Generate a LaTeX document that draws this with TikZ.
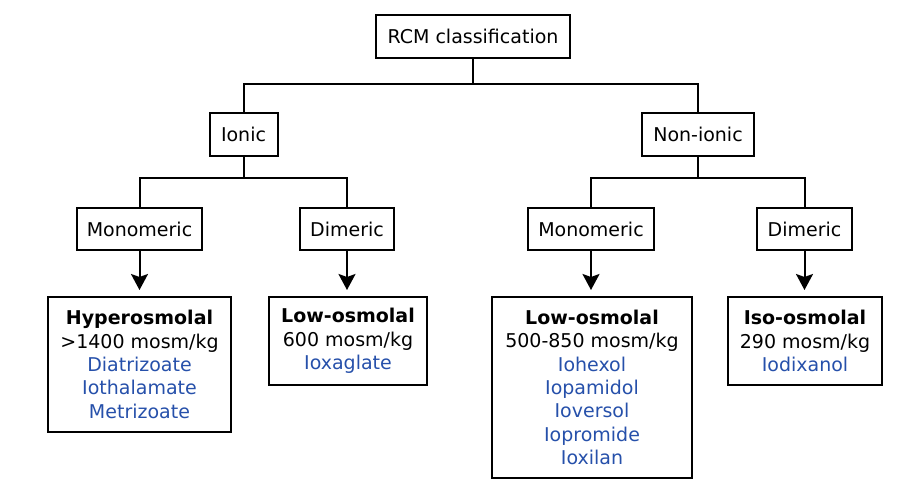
\documentclass[tikz,border=0pt]{standalone}
\usepackage{fontspec}
\setmainfont{DejaVu Sans}
\usepackage{xcolor}
\usetikzlibrary{positioning, arrows.meta}
\definecolor{drugblue}{RGB}{38,80,170}
\tikzset{
  box/.style={draw, line width=1pt, align=center, inner sep=0pt,
    font=\fontsize{9.5}{11.7}\selectfont},
  link/.style={line width=1pt},
  arr/.style={line width=1pt, -{Stealth[width=8.5pt,length=8pt,inset=1.5pt]}, shorten >=3pt}
}
\newcommand{\dn}[1]{\textcolor{drugblue}{#1}}

\begin{document}
\begin{tikzpicture}[x=0.5pt,y=-0.5pt]
    \useasboundingbox (0,0) rectangle (907,493);

    \node[box, minimum width=97pt, minimum height=21.5pt](rcm)at(473,36.5){RCM classification};%根
    \node[box, minimum width=34pt, minimum height=21.5pt](ionic)at(243.5,134.5){Ionic};
    \node[box, minimum width=56pt, minimum height=21.5pt](nonionic)at(698,134.5){Non-ionic};

    \node[box, minimum width=62.5pt, minimum height=21pt](monoA)at(139.5,229){Monomeric};
    \node[box, minimum width=47pt, minimum height=21pt](diA)at(347,229){Dimeric};
    \node[box, minimum width=63pt, minimum height=21pt](monoB)at(591,229){Monomeric};
    \node[box, minimum width=47.5pt, minimum height=21pt](diB)at(804.5,229){Dimeric};

    % result boxes
    \node[box, anchor=north, minimum width=91.5pt, minimum height=67.5pt](hyper)at(139.5,296)
      {\textbf{Hyperosmolal}\\>1400 mosm/kg\\\dn{Diatrizoate}\\\dn{Iothalamate}\\\dn{Metrizoate}};
    \node[box, anchor=north, minimum width=79pt, minimum height=44pt](lowA)at(348,296)
      {\textbf{Low-osmolal}\\600 mosm/kg\\\dn{Ioxaglate}};
    \node[box, anchor=north, minimum width=100pt, minimum height=90.5pt](lowB)at(592,296)
      {\textbf{Low-osmolal}\\500-850 mosm/kg\\\dn{Iohexol}\\\dn{Iopamidol}\\\dn{Ioversol}\\\dn{Iopromide}\\\dn{Ioxilan}};
    \node[box, anchor=north, minimum width=77pt, minimum height=44pt](iso)at(805,296)
      {\textbf{Iso-osmolal}\\290 mosm/kg\\\dn{Iodixanol}};

    \coordinate(t0)at(473,84);%分岐点
    \coordinate(t1)at(243.5,178);
    \coordinate(t2)at(698,178);
    \draw[link](rcm.south)--(t0);
    \draw[link](ionic.north)|-(t0)-|(nonionic.north);
    \draw[link](ionic.south)--(t1);
    \draw[link](monoA.north)|-(t1)-|(diA.north);
    \draw[link](nonionic.south)--(t2);
    \draw[link](monoB.north)|-(t2)-|(diB.north);

    \foreach\A/\B in{monoA/hyper,diA/lowA,monoB/lowB,diB/iso}\draw[arr](\A.south)--(\A.south|-\B.north);
    \end{tikzpicture}
\end{document}
